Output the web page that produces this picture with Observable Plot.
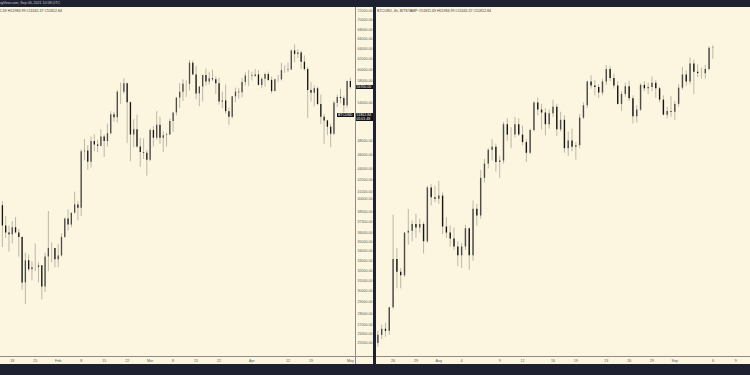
<!DOCTYPE html>
<html><head><meta charset="utf-8">
<script src="https://cdn.jsdelivr.net/npm/d3@7"></script>
<script src="https://cdn.jsdelivr.net/npm/@observablehq/plot@0.6"></script>
<style>
html,body{margin:0;padding:0;background:#1e2230;}
#root{position:relative;width:750px;height:375px;overflow:hidden;background:#1e2230;font-family:"Liberation Sans",Arial,sans-serif;}
.panel{position:absolute;top:7px;height:357px;background:#fcf5df;overflow:hidden;}
.hdr{position:absolute;top:2px;font-size:3.6px;color:#3a3a3a;white-space:nowrap;}
.line{position:absolute;background:#8f8c84;}
.tag{position:absolute;background:#131313;color:#fff;font-size:3.5px;line-height:4px;white-space:nowrap;padding:0 1px;}
</style></head>
<body>
<div id="root">
  <div style="position:absolute;left:0;top:0;width:750px;height:7px;background:#1e2230;">
    <span style="position:absolute;right:690px;top:1.2px;font-size:3.6px;color:#c9c9c9;white-space:nowrap;">TradingView.com, Sep 06, 2021 10:58 UTC</span>
  </div>
  <div id="left" class="panel" style="left:0;width:373px;"></div>
  <div id="right" class="panel" style="left:376px;width:374px;"></div>
</div>
<script>
// ---- Left panel: BTCUSD daily, 14 Jan – 1 May 2021 ----
const leftStart = "2021-01-14", leftEnd = "2021-05-02";
const L_O = [37400,39200,36800,36000,35800,36600,36000,35500,30800,33000,32100,32300,32300,32500,30400,33400,34300,34300,
33100,33500,35500,37600,36900,38300,39300,38900,46400,46500,44900,47900,47400,47200,48600,47900,49100,52100,51600,55900,55900,57400,54100,48900,49700,47100,46300,46200,
45200,49600,48400,50400,48400,48800,48900,51000,52400,54900,55900,57300,57300,61200,59000,55600,56800,58900,57700,58300,58100,57400,54200,54400,52600,51700,55100,55900,55800,57600,58800,
58800,58700,59000,57100,58200,59100,58000,56000,58100,58100,59800,59800,59900,63600,62900,63200,61400,60000,56200,55700,56500,53800,51700,51100,50100,49000,54000,55000,54800,53600,
57800];
const L_H = [40000,39700,37900,36800,37300,37800,36400,35600,33800,33600,32900,34800,32800,32500,33800,38500,34900,34300,
34700,35900,37700,38700,38300,40900,39700,46700,48200,47300,48600,48900,48100,49700,48900,50600,52600,52500,56200,57500,58300,57500,54200,51300,52000,48400,48300,46600,
49800,50200,52600,51700,49400,49200,51400,52400,54900,57400,58100,57900,61700,61600,60600,56900,58900,60100,59500,59900,58600,58400,55900,57200,53200,55100,56600,56500,58400,59400,59800,
59500,60000,59800,58500,59300,59500,58600,58200,58900,61200,60700,61200,63800,64800,63800,63500,62600,60400,57600,57000,56800,55400,52100,51200,50600,54300,55400,56400,55200,57900,
58400];
const L_L = [36800,34400,35400,33900,34800,35900,33400,30100,28800,31900,31000,31900,30800,29200,29900,31900,32800,32300,
32300,33400,35400,36200,36600,38200,37400,37900,45100,43800,44100,46400,46300,47100,45600,47100,48900,50900,50800,53800,55500,47600,45000,47000,46900,44200,45300,43000,
45000,47100,48100,47500,46300,47100,48900,49300,51900,53100,54300,55000,56100,59000,54600,53400,54200,57000,57200,57800,55500,53700,53100,52200,50400,51400,54100,54700,54900,57000,56900,
57900,58500,57000,56500,56800,57800,55600,55900,57700,57900,59300,59400,59800,61300,62100,60000,59700,51500,54200,53400,53600,50500,47500,48800,47000,48800,53300,53900,52400,53100,
56400];
const L_C = [39200,36800,36000,35800,36600,36000,35500,30800,33000,32100,32300,32300,32500,30400,33400,34300,34300,33100,
33500,35500,37600,36900,38300,39300,38900,46400,46500,44900,47900,47400,47200,48600,47900,49100,52100,51600,55900,55900,57400,54100,48900,49700,47100,46300,46200,45200,
49600,48400,50400,48400,48800,48900,51000,52400,54900,55900,57300,57300,61200,59000,55600,56800,58900,57700,58300,58100,57400,54200,54400,52600,51700,55100,55900,55800,57600,58800,58800,
58700,59000,57100,58200,59100,58000,56000,58100,58100,59800,59800,59900,63600,62900,63200,61400,60000,56200,55700,56500,53800,51700,51100,50100,49000,54000,55000,54800,53600,57800,
56700];
const L_yDomain = [24470, 72840];
const L_yTicks = [72000,70000,68000,66000,64000,62000,60000,58000,54000,48000,46000,44000,42500,41000,40000,38500,37300,36000,35000,34000,33000,32000,31000,30000,29000,28000,27000,26300,25500];
const L_xTicks = ["2021-01-18","2021-01-25","2021-02-01","2021-02-08","2021-02-15","2021-02-22","2021-03-01","2021-03-08","2021-03-15","2021-03-22","2021-04-01","2021-04-12","2021-04-19","2021-05-01"];

// ---- Right panel: BTCUSD 12h, 24 Jul – 6 Sep 2021 ----
const rightStart = "2021-07-24T00:00Z", rightEnd = "2021-09-06T01:00Z";
const R_O = [33600,34000,34300,34200,35400,38000,37300,37100,39500,39600,40000,39800,40000,39000,42200,41600,
41500,41700,39850,39500,39150,38700,38200,38700,39750,38200,40900,40500,42800,43700,44600,44800,43800,43900,46300,45600,45600,46300,45600,45100,44400,45900,47800,47300,47100,46300,47050,47500,45950,46600,44700,45200,44800,44900,46750,47600,49300,49000,48900,48500,49300,50200,49550,49000,47700,48400,48950,48100,46850,47300,49050,48800,48900,49200,48800,48000,46950,47200,
47150,47700,48850,49800,49300,50600,50000,49900,49900,50200,51800];
const R_H = [34200,34500,34600,35400,40550,38600,37500,39500,40900,40200,40600,40300,40100,42300,42400,42300,
42600,41900,40400,39900,39800,39000,38900,39950,39800,41400,41200,43300,44000,44700,45300,45000,44200,46450,46700,46100,46800,46700,46200,45300,46000,47900,48150,47700,47400,47300,48000,47700,47150,46900,45800,46000,45100,47000,47800,49350,49750,49400,49100,49500,50500,50400,49850,49300,48600,49200,49350,48300,47600,49150,49300,49200,49650,49400,48900,48300,47500,48250,
47900,49100,50350,50100,51050,50900,50550,50300,50500,51900,51985];
const R_L = [33400,33800,33900,34000,35300,36400,36400,37000,38800,39000,39200,39500,38300,38900,41100,41300,
41200,39400,39200,38700,38500,37600,37500,38500,37400,37900,39900,40300,42500,43400,43900,43200,42800,43700,45200,44700,45400,45500,44900,43800,44300,45800,46900,45950,45550,46000,46800,45500,45800,44400,44200,44500,43950,44700,46650,47400,48800,48300,48100,48300,49050,49300,48800,47650,47200,48200,47900,46350,46400,47200,48600,48400,48600,48100,47800,46900,46700,46800,
46600,47500,48700,49000,49100,48400,49600,49500,49500,50100,50950];
const R_C = [34000,34300,34200,35400,38000,37300,37100,39500,39600,40000,39800,40000,39000,42200,41600,41500,
41700,39850,39500,39150,38700,38200,38700,39750,38200,40900,40500,42800,43700,44600,44800,43800,43900,46300,45600,45600,46300,45600,45100,44400,45900,47800,47300,47100,46300,47050,47500,45950,46600,44700,45200,44800,44900,46750,47600,49300,49000,48900,48500,49300,50200,49550,49000,47700,48400,48950,48100,46850,47300,49050,48800,48900,49200,48800,48000,46950,47200,47150,
47700,48850,49800,49300,50600,50000,49900,49900,50200,51800,51812.84];
const R_yDomain = [32960, 54980];
const R_xTicks = ["2021-07-26","2021-07-29","2021-08-01","2021-08-04","2021-08-09","2021-08-12","2021-08-16","2021-08-19","2021-08-23","2021-08-26","2021-08-29","2021-09-01","2021-09-06","2021-09-09"];

const headerText = "BTCUSD, 4h, BITSTAMP  O51811.69  H51984.99  L51645.37  C51812.84";
const leftHeaderText = "BTCUSD, 1D, BITSTAMP  O51811.69  H51984.99  L51645.37  C51812.84";
const currentPrice = 51812.84, countdown = "05:01:48";

const WICK = "#aca79b", UP = "#4a4a4a", DOWN = "#151515";

function rows(times, O, H, L, C) {
  return times.map((t, i) => ({date: t, open: O[i], high: H[i], low: L[i], close: C[i]}));
}
const leftRows = rows(d3.utcDay.range(new Date(leftStart), new Date(leftEnd)), L_O, L_H, L_L, L_C);
const rightRows = rows(d3.utcHour.every(12).range(new Date(rightStart), new Date(rightEnd)), R_O, R_H, R_L, R_C);

function dayFmt(d) {
  return d.getUTCDate() === 1 ? d3.utcFormat("%b")(d) : String(d.getUTCDate());
}
function candleMarks(data, bodyW) {
  return [
    Plot.ruleX(data, {x: "date", y1: "low", y2: "high", stroke: WICK, strokeWidth: 0.8}),
    Plot.ruleX(data.filter(d => d.close >= d.open), {x: "date", y1: "open", y2: "close", stroke: UP, strokeWidth: bodyW}),
    Plot.ruleX(data.filter(d => d.close < d.open), {x: "date", y1: "open", y2: "close", stroke: DOWN, strokeWidth: bodyW})
  ];
}
const baseStyle = {background: "transparent", fontSize: "3.6px", color: "#5a5a5a", fontFamily: "Liberation Sans, Arial, sans-serif", overflow: "visible"};

// Left chart
const leftX0 = new Date(Date.UTC(2021,1,1) - 17.58*864e5), leftX1 = new Date(Date.UTC(2021,1,1) + 90.56*864e5);
const leftChart = Plot.plot({
  width: 373, height: 357, marginLeft: 0, marginRight: 18, marginTop: 0, marginBottom: 8,
  style: baseStyle,
  x: {type: "utc", domain: [leftX0, leftX1], ticks: L_xTicks.map(s => new Date(s)), tickFormat: dayFmt, tickSize: 0, tickPadding: 3, label: null},
  y: {type: "log", domain: L_yDomain, axis: "right", ticks: L_yTicks, tickFormat: d => d.toFixed(2), tickSize: 0, tickPadding: 2, label: null},
  marks: candleMarks(leftRows, 1.3)
});
// Right chart
const rightX0 = new Date(Date.UTC(2021,7,1) - 8.18*864e5), rightX1 = new Date(Date.UTC(2021,7,1) + 40.94*864e5);
const rightChart = Plot.plot({
  width: 374, height: 357, marginLeft: 0, marginRight: 0, marginTop: 0, marginBottom: 8,
  style: baseStyle,
  x: {type: "utc", domain: [rightX0, rightX1], ticks: R_xTicks.map(s => new Date(s)), tickFormat: dayFmt, tickSize: 0, tickPadding: 3, label: null},
  y: {type: "log", domain: R_yDomain, axis: null},
  marks: candleMarks(rightRows, 1.4)
});

const L = document.getElementById("left"), R = document.getElementById("right");
L.appendChild(leftChart); R.appendChild(rightChart);
for (const el of [leftChart, rightChart]) { el.style.position = "absolute"; el.style.left = "0"; el.style.top = "0"; }

function addDiv(parent, cls, css, text) {
  const d = document.createElement("div"); d.className = cls; d.style.cssText = css; if (text) d.textContent = text; parent.appendChild(d); return d;
}
// borders
addDiv(L, "line", "left:0;top:349px;width:373px;height:0.8px;");
addDiv(L, "line", "left:355px;top:0;width:0.8px;height:357px;");
addDiv(R, "line", "left:0;top:349px;width:374px;height:0.8px;");
// headers
addDiv(L, "hdr", "right:311px;", leftHeaderText);
addDiv(R, "hdr", "left:1px;", headerText);
// price tags on left axis, positioned through the y scale
const ly = leftChart.scale("y");
const lastClose = L_C[L_C.length - 1];
addDiv(L, "tag", `left:355.5px;top:${ly.apply(lastClose) - 2.5}px;width:15.5px;`, lastClose.toFixed(2));
const cy = ly.apply(currentPrice);
addDiv(L, "tag", `left:337px;top:${cy - 2.5}px;width:15px;`, "BTCUSD");
addDiv(L, "tag", `left:355.5px;top:${cy - 2.5}px;width:15.5px;height:8px;`, currentPrice.toFixed(2) + "\n" + countdown).style.whiteSpace = "pre";
</script>
</body></html>
